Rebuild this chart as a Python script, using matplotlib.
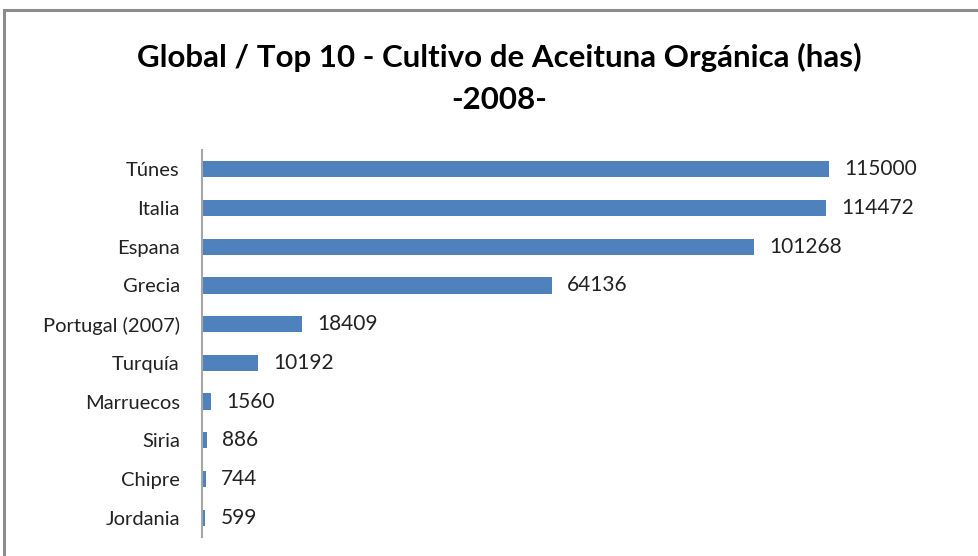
import matplotlib.pyplot as plt
from matplotlib.patches import Rectangle

paises = ["Túnes", "Italia", "Espana", "Grecia", "Portugal (2007)", "Turquía",
          "Marruecos", "Siria", "Chipre", "Jordania"]
hectareas = [115000, 114472, 101268, 64136, 18409, 10192, 1560, 886, 744, 599]

plt.rcParams["font.family"] = ["Lato", "DejaVu Sans"]

W, H = 979, 556
fig = plt.figure(figsize=(W / 100, H / 100), dpi=100)

# marco gris alrededor del grafico
fig.patches.append(Rectangle((4 / W, -0.1), 1.1, 1 - 10 / H + 0.1, transform=fig.transFigure,
                             fill=False, edgecolor="#8c8c8c", linewidth=2.2))

ax = fig.add_axes([202 / W, 1 - 537 / H, 763 / W, (537 - 150) / H])
y = range(len(paises))
ax.barh(y, hectareas, height=0.42, color="#4f81bd")
ax.set_ylim(len(paises) - 0.5, -0.5)
ax.set_xlim(0, 140000)
ax.set_yticks(list(y))
ax.set_yticklabels(paises, fontsize=14.5, color="#222222")
ax.tick_params(axis="y", length=0, pad=16)
ax.set_xticks([])
for s in ["top", "right", "bottom"]:
    ax.spines[s].set_visible(False)
ax.spines["left"].set_color("#a6a6a6")
ax.spines["left"].set_linewidth(1.5)

for i, v in enumerate(hectareas):
    ax.annotate(str(v), (v, i), xytext=(11, 0), textcoords="offset points",
                va="center", ha="left", fontsize=15, color="#222222")

fig.text(499 / W, 1 - 57 / H, "Global / Top 10 - Cultivo de Aceituna Orgánica (has)",
         ha="center", va="center", fontsize=22.5, fontweight="bold")
fig.text(499 / W, 1 - 100 / H, "-2008-", ha="center", va="center",
         fontsize=22.5, fontweight="bold")

plt.savefig("out.png", dpi=100)
